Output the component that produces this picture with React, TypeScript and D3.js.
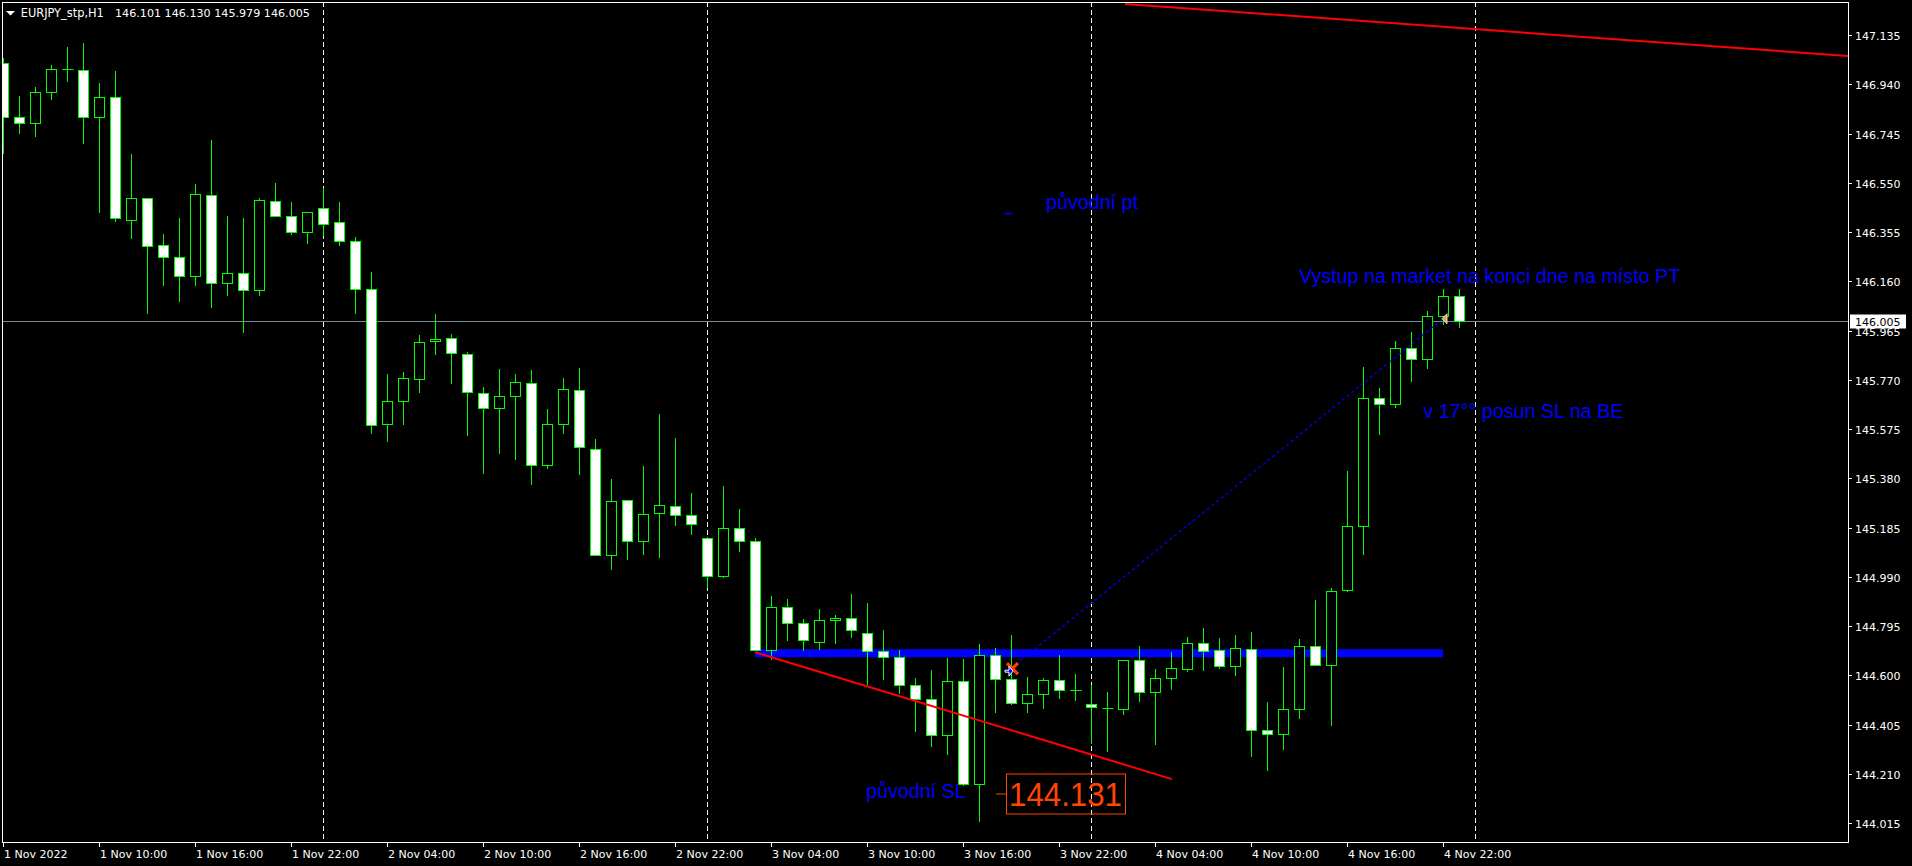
import React from "react";
import * as d3 from "d3";

// H1 bars, index 0 = 1 Nov 2022 04:00
const opens = [147.024,146.812,146.785,146.908,146.999,146.995,146.809,146.888,146.404,146.488,146.302,146.255,146.182,146.500,146.152,146.192,146.124,146.477,146.417,146.354,146.449,146.393,146.318,146.128,145.594,145.685,145.775,145.922,145.934,145.871,145.719,145.657,145.707,145.756,145.432,145.594,145.728,145.497,145.078,145.293,145.133,145.245,145.269,145.234,145.146,144.992,145.182,145.134,144.701,144.873,144.806,144.733,144.818,144.826,144.769,144.695,144.675,144.564,144.505,144.365,144.580,144.171,144.683,144.588,144.493,144.525,144.584,144.542,144.488,144.471,144.469,144.660,144.533,144.591,144.626,144.727,144.699,144.636,144.703,144.386,144.367,144.466,144.716,144.640,144.937,145.190,145.700,145.673,145.898,145.851,146.021,146.101];
const highs = [147.044,146.893,146.928,147.016,147.087,147.105,146.944,146.993,146.664,146.490,146.347,146.411,146.545,146.719,146.418,146.411,146.490,146.549,146.474,146.433,146.529,146.474,146.334,146.197,145.793,145.801,145.947,146.030,145.951,145.880,145.740,145.813,145.793,145.809,145.654,145.777,145.817,145.536,145.377,145.294,145.429,145.635,145.540,145.322,145.147,145.350,145.259,145.145,144.913,144.902,144.823,144.863,144.839,144.922,144.885,144.780,144.700,144.592,144.620,144.671,144.664,144.724,144.707,144.760,144.596,144.592,144.680,144.607,144.561,144.534,144.661,144.716,144.625,144.692,144.752,144.787,144.747,144.760,144.771,144.494,144.633,144.744,144.898,144.945,145.409,145.821,145.738,145.924,145.959,146.041,146.128,146.130];
const lows = [146.668,146.747,146.736,146.882,146.954,146.709,146.436,146.400,146.333,146.036,146.147,146.083,146.147,146.059,146.107,145.960,146.107,146.417,146.346,146.313,146.343,146.305,146.033,145.561,145.529,145.596,145.723,145.873,145.759,145.553,145.402,145.481,145.458,145.359,145.422,145.561,145.396,145.075,145.022,145.062,145.082,145.070,145.196,145.161,144.951,144.990,145.093,144.700,144.666,144.741,144.701,144.705,144.729,144.753,144.566,144.585,144.529,144.381,144.321,144.290,144.165,144.025,144.456,144.488,144.456,144.472,144.512,144.504,144.334,144.302,144.449,144.500,144.329,144.548,144.616,144.622,144.630,144.603,144.282,144.226,144.310,144.433,144.640,144.405,144.933,145.082,145.554,145.661,145.764,145.816,145.990,145.979];
const closes = [146.810,146.785,146.908,146.999,147.000,146.809,146.888,146.409,146.488,146.301,146.255,146.182,146.506,146.152,146.192,146.124,146.481,146.417,146.354,146.433,146.386,146.318,146.128,145.590,145.685,145.776,145.918,145.930,145.875,145.723,145.657,145.708,145.760,145.432,145.594,145.732,145.503,145.078,145.289,145.133,145.241,145.273,145.234,145.198,144.994,145.182,145.134,144.701,144.873,144.806,144.739,144.818,144.827,144.779,144.695,144.675,144.564,144.505,144.363,144.580,144.171,144.683,144.588,144.493,144.525,144.584,144.541,144.543,144.475,144.472,144.660,144.533,144.592,144.628,144.727,144.698,144.636,144.707,144.386,144.367,144.466,144.716,144.640,144.933,145.190,145.700,145.673,145.898,145.851,146.021,146.101,146.005];

const priceTicks = [147.135,146.940,146.745,146.550,146.355,146.160,145.965,145.770,145.575,145.380,145.185,144.990,144.795,144.600,144.405,144.210,144.015];
const timeTickIndex = [0,6,12,18,24,30,36,42,48,54,60,66,72,78,84,90];
const timeTickLabels = ["1 Nov 2022","1 Nov 10:00","1 Nov 16:00","1 Nov 22:00","2 Nov 04:00","2 Nov 10:00","2 Nov 16:00","2 Nov 22:00","3 Nov 04:00","3 Nov 10:00","3 Nov 16:00","3 Nov 22:00","4 Nov 04:00","4 Nov 10:00","4 Nov 16:00","4 Nov 22:00"];
const daySeparators = [20,44,68,92];

const symbolName = "EURJPY_stp,H1";
const bidPrice = 146.005;

// chart objects (bar index, price)
const beBand = { i1: 47, i2: 90, price: 144.688 };
const slTrend = [{ i: 47, price: 144.692 }, { i: 73.06, price: 144.19 }];
const topTrend = [{ i: 70.125, price: 147.258 }, { i: 115.31, price: 147.052 }];
const trade = { openI: 63, openPrice: 144.629, closeI: 90, closePrice: 146.012 };
const ptMark = { i: 62.8, price: 146.428 };
const slLabel = { i: 62, price: 144.131, text: "144.131" };
const notes = [
  { text: "původní pt", i: 65.19, price: 146.445 },
  { text: "Vystup na market na konci dne na místo PT", i: 81.0, price: 146.152 },
  { text: "v 17°° posun SL na BE", i: 88.77, price: 145.62 },
  { text: "původní SL", i: 53.94, price: 144.116 },
];

const W = 1912, H = 866;
const L = 2, T = 2, R = 1848, B = 842;

export default function App() {
  const x = d3.scaleLinear().domain([0, 91]).range([3, 3 + 16 * 91]);
  const y = d3.scaleLinear().domain([147.135, 144.015]).range([35, 823.3]);
  const candles = opens.map((o, i) => ({ i, o, h: highs[i], l: lows[i], c: closes[i] }));
  const n = opens.length - 1;
  const ohlcText = [opens[n], highs[n], lows[n], closes[n]].map((v) => v.toFixed(3)).join(" ");
  const line = d3.line<{ i: number; price: number }>().x((d) => x(d.i)).y((d) => y(d.price));
  const bidY = Math.round(y(bidPrice)) + 0.5;
  const axisFont = "'DejaVu Sans', Tahoma, sans-serif";
  const noteFont = "Arial, 'Liberation Sans', sans-serif";

  const ox = x(trade.openI), oy = y(trade.openPrice);
  const cxp = x(trade.closeI), cyp = y(trade.closePrice);
  const slx = x(slLabel.i), sly = y(slLabel.price);

  return (
    <div style={{ position: "fixed", left: 0, top: 0, width: W, height: H, background: "#000" }}>
      <svg width={W} height={H} style={{ display: "block" }}>
        <defs>
          <clipPath id="plot">
            <rect x={L} y={T} width={R - L} height={B - T} />
          </clipPath>
        </defs>
        <rect x={0} y={0} width={W} height={H} fill="#000" />
        <g clipPath="url(#plot)">
          {daySeparators.map((d) => (
            <line key={d} x1={Math.round(x(d)) + 0.5} x2={Math.round(x(d)) + 0.5} y1={T} y2={B}
              stroke="#fff" strokeDasharray="5,3" />
          ))}
          <line x1={L} x2={R} y1={bidY} y2={bidY} stroke="#778899" />
          <line x1={x(beBand.i1)} x2={x(beBand.i2)} y1={y(beBand.price)} y2={y(beBand.price)}
            stroke="#0000ff" strokeWidth={8} />
          {candles.map((d) => {
            const cx = Math.round(x(d.i)) + 0.5;
            const yH = Math.round(y(d.h));
            const yL = Math.round(y(d.l));
            const top = Math.round(y(Math.max(d.o, d.c)));
            const bot = Math.round(y(Math.min(d.o, d.c)));
            const bull = d.c >= d.o;
            return (
              <g key={d.i}>
                <line x1={cx} x2={cx} y1={yH} y2={yL + 1} stroke="#00ff00" />
                {bot - top < 1 ? (
                  <line x1={cx - 5} x2={cx + 6} y1={top + 0.5} y2={top + 0.5} stroke="#00ff00" />
                ) : (
                  <rect x={cx - 5} y={top + 0.5} width={10} height={bot - top}
                    fill={bull ? "#000" : "#fff"} stroke="#00ff00" />
                )}
              </g>
            );
          })}
          <path d={line(slTrend) || ""} stroke="#ff0000" strokeWidth={2} fill="none" />
          <path d={line(topTrend) || ""} stroke="#ff0000" strokeWidth={2} fill="none" />
          <line x1={ox} y1={oy} x2={cxp} y2={cyp} stroke="#0000ff" strokeWidth={1.3} strokeDasharray="3,3" />
          <line x1={x(ptMark.i) - 3} x2={x(ptMark.i) + 4} y1={y(ptMark.price)} y2={y(ptMark.price)}
            stroke="#0000ff" strokeWidth={1.5} />
          {/* open markers */}
          <path d={`M${ox - 4},${oy - 5} L${ox + 7},${oy + 6} M${ox + 7},${oy - 5} L${ox - 3},${oy + 4}`}
            stroke="#ff4000" strokeWidth={3} fill="none" />
          <path d={`M${ox - 6},${oy + 2} L${ox - 2},${oy + 2} L${ox - 2},${oy - 2} L${ox + 2},${oy + 3} L${ox - 2},${oy + 8} L${ox - 2},${oy + 4} L${ox - 6},${oy + 4} Z`}
            fill="#0000ff" stroke="#fff" strokeWidth={1} />
          {/* close marker */}
          <path d={`M${cxp - 1},${cyp} L${cxp + 4},${cyp - 5} L${cxp + 4},${cyp + 5} Z`}
            fill="#e8a040" stroke="#fff" strokeWidth={0.8} />
          {/* SL price label */}
          <line x1={slx + 1} x2={slx + 11} y1={sly} y2={sly} stroke="#ff4500" />
          <rect x={slx + 11.5} y={sly - 20} width={119} height={40} fill="none" stroke="#ff4500" />
          <text x={slx + 14} y={sly + 12.5} fontFamily={noteFont} fontSize={34} fill="#ff4500"
            textLength={113} lengthAdjust="spacingAndGlyphs">{slLabel.text}</text>
          {notes.map((d) => (
            <text key={d.text} x={x(d.i)} y={y(d.price)} fontFamily={noteFont} fontSize={19.7} fill="#0000ff">
              {d.text}
            </text>
          ))}
        </g>
        {/* frame */}
        <rect x={L + 0.5} y={T + 0.5} width={R - L} height={B - T} fill="none" stroke="#fff" />
        {/* title */}
        <path d="M6,11 L15,11 L10.5,15.5 Z" fill="#fff" />
        <text x={20.7} y={16.7} fontFamily={axisFont} fontSize={11.4} fill="#fff">{symbolName}</text>
        <text x={115} y={16.7} fontFamily={axisFont} fontSize={11.15} fill="#fff">{ohlcText}</text>
        {/* right axis */}
        {priceTicks.map((p) => {
          const ty = Math.round(y(p)) + 0.5;
          return (
            <g key={p}>
              <line x1={R + 1} x2={R + 4} y1={ty} y2={ty} stroke="#fff" />
              <text x={1855} y={ty + 4} fontFamily={axisFont} fontSize={11} fill="#fff">{p.toFixed(3)}</text>
            </g>
          );
        })}
        <rect x={1850} y={bidY - 7} width={56} height={14} fill="#fff" />
        <text x={1855} y={bidY + 4} fontFamily={axisFont} fontSize={11} fill="#000">{bidPrice.toFixed(3)}</text>
        {/* bottom axis */}
        {timeTickIndex.map((ti, k) => {
          const tx = Math.round(x(ti)) + 0.5;
          return (
            <g key={ti}>
              <line x1={tx} x2={tx} y1={B + 1} y2={B + 5} stroke="#fff" />
              <text x={tx + 0.5} y={857.7} fontFamily={axisFont} fontSize={11} fill="#fff">{timeTickLabels[k]}</text>
            </g>
          );
        })}
      </svg>
    </div>
  );
}
